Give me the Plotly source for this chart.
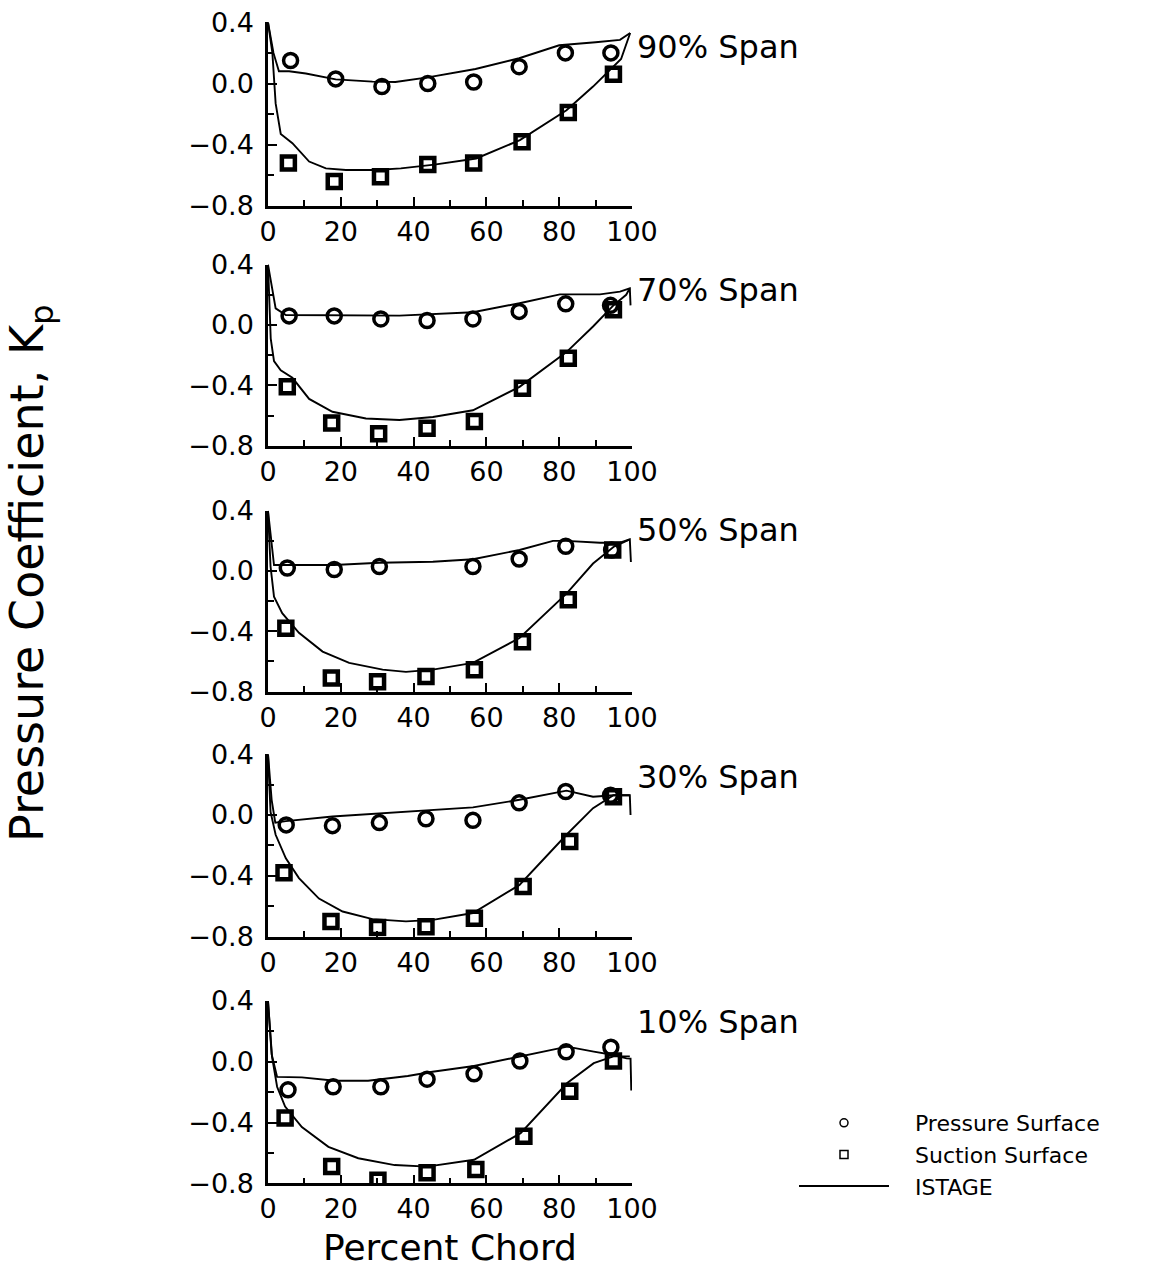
import plotly.graph_objects as go
from plotly.subplots import make_subplots

W, H = 1172, 1277

# ---------------- data ----------------
span_labels = ["90% Span", "70% Span", "50% Span", "30% Span", "10% Span"]

# 90% span
p90_x = [6.2, 18.6, 31.3, 43.9, 56.5, 69.0, 81.7, 94.2]
p90_y = [0.15, 0.03, -0.02, 0.00, 0.01, 0.11, 0.20, 0.20]
s90_x = [5.6, 18.2, 30.9, 43.9, 56.5, 69.8, 82.5, 94.9]
s90_y = [-0.52, -0.64, -0.61, -0.53, -0.52, -0.38, -0.19, 0.06]
ip90_x = [0, 1.5, 3, 5.8, 10.4, 18.6, 28.7, 35, 43.9, 57, 69, 80, 90, 96.7, 99.5]
ip90_y = [0.40, 0.20, 0.08, 0.08, 0.065, 0.027, 0.012, 0.01, 0.04, 0.095, 0.165, 0.25, 0.27, 0.285, 0.33]
is90_x = [0, 1.2, 2.1, 3.5, 6.7, 11.3, 15.9, 21.4, 29.6, 36.5, 45.7, 57.2, 69.2, 82, 89.3, 94.8, 97, 99.5]
is90_y = [0.40, 0.20, -0.13, -0.33, -0.39, -0.51, -0.555, -0.565, -0.565, -0.555, -0.53, -0.49, -0.37, -0.175, -0.02, 0.11, 0.16, 0.33]

# 70% span
p70_x = [5.8, 18.2, 31.0, 43.7, 56.3, 69.0, 81.8, 94.1]
p70_y = [0.06, 0.06, 0.04, 0.03, 0.04, 0.09, 0.14, 0.13]
s70_x = [5.3, 17.5, 30.4, 43.7, 56.7, 69.9, 82.5, 94.9]
s70_y = [-0.41, -0.65, -0.72, -0.685, -0.64, -0.42, -0.22, 0.10]
ip70_x = [0, 2.1, 4.9, 18, 36.1, 56.3, 69.1, 80.2, 91.2, 96.7, 99.4, 99.6]
ip70_y = [0.40, 0.11, 0.066, 0.066, 0.062, 0.084, 0.144, 0.203, 0.203, 0.221, 0.243, 0.13]
is70_x = [0, 0.75, 1.65, 3.5, 6.7, 11.3, 17.7, 26.9, 36.1, 45.3, 56.3, 69.1, 82, 89.3, 94.9, 98.4, 99.4]
is70_y = [0.40, -0.09, -0.24, -0.30, -0.35, -0.49, -0.575, -0.62, -0.63, -0.61, -0.565, -0.41, -0.18, -0.01, 0.13, 0.20, 0.243]

# 50% span
p50_x = [5.3, 18.2, 30.6, 56.3, 69.0, 81.8, 94.4]
p50_y = [0.02, 0.01, 0.03, 0.03, 0.08, 0.165, 0.14]
s50_x = [4.9, 17.4, 30.1, 43.4, 56.7, 69.9, 82.5, 94.7]
s50_y = [-0.38, -0.71, -0.735, -0.70, -0.655, -0.47, -0.19, 0.14]
ip50_x = [0, 1.65, 4.9, 18.2, 30.6, 45.3, 56.3, 69.1, 78.3, 82, 91.2, 96.7, 99.4, 99.7]
ip50_y = [0.40, 0.04, 0.04, 0.04, 0.055, 0.062, 0.078, 0.14, 0.20, 0.20, 0.188, 0.188, 0.21, 0.06]
is50_x = [0, 0.7, 1.65, 3.9, 8.5, 15, 22.3, 31.5, 37.9, 45.3, 56.3, 69.1, 82, 89.3, 94.9, 98.4, 99.4]
is50_y = [0.40, 0.03, -0.17, -0.28, -0.41, -0.535, -0.61, -0.655, -0.67, -0.655, -0.61, -0.445, -0.15, 0.05, 0.16, 0.195, 0.21]

# 30% span
p30_x = [5.0, 17.7, 30.6, 43.4, 56.3, 69.0, 81.8, 94.1]
p30_y = [-0.065, -0.07, -0.05, -0.025, -0.035, 0.08, 0.155, 0.13]
s30_x = [4.4, 17.3, 30.1, 43.4, 56.7, 70.1, 82.9, 94.9]
s30_y = [-0.38, -0.70, -0.74, -0.735, -0.68, -0.47, -0.175, 0.12]
ip30_x = [0, 1.0, 2.0, 4.9, 17.7, 30.6, 45.3, 56.3, 69.1, 82, 89.3, 94.9, 99.4, 99.6]
ip30_y = [0.40, 0.10, -0.05, -0.04, -0.01, 0.01, 0.035, 0.05, 0.10, 0.16, 0.12, 0.13, 0.13, 0.0]
is30_x = [0, 0.7, 2.1, 4.9, 8.5, 14, 20.5, 28.7, 37.9, 45.3, 56.3, 69.1, 82, 89.3, 94.9, 99.4]
is30_y = [0.40, 0.02, -0.13, -0.285, -0.415, -0.55, -0.635, -0.685, -0.70, -0.69, -0.645, -0.46, -0.13, 0.045, 0.13, 0.13]

# 10% span
p10_x = [5.5, 17.9, 31.0, 43.7, 56.6, 69.2, 81.9, 94.2]
p10_y = [-0.185, -0.165, -0.165, -0.115, -0.08, 0.005, 0.065, 0.095]
s10_x = [4.7, 17.5, 30.2, 43.7, 57.1, 70.3, 82.9, 94.9]
s10_y = [-0.37, -0.69, -0.78, -0.73, -0.71, -0.49, -0.195, 0.005]
ip10_x = [0, 1.0, 2.5, 5.5, 9.3, 18.4, 27.5, 38.4, 45.2, 56.6, 69.4, 82.2, 89.5, 94.9, 98.5, 99.6, 99.8]
ip10_y = [0.40, 0.05, -0.10, -0.10, -0.103, -0.125, -0.125, -0.094, -0.066, -0.028, 0.033, 0.099, 0.066, 0.044, 0.022, 0.02, -0.19]
is10_x = [0, 1.1, 2.5, 4.7, 9.3, 16.6, 24.8, 34.8, 43.7, 56.6, 69.4, 82.2, 89.5, 94.9, 99.4]
is10_y = [0.40, 0.033, -0.165, -0.295, -0.43, -0.56, -0.635, -0.68, -0.69, -0.645, -0.47, -0.14, -0.01, 0.035, 0.035]

x_ticks = [0, 20, 40, 60, 80, 100]
y_ticks = [0.4, 0.0, -0.4, -0.8]
y_tick_text = ["0.4", "0.0", "\u22120.4", "\u22120.8"]

panels = [
    (p90_x, p90_y, s90_x, s90_y, ip90_x, ip90_y, is90_x, is90_y),
    (p70_x, p70_y, s70_x, s70_y, ip70_x, ip70_y, is70_x, is70_y),
    (p50_x, p50_y, s50_x, s50_y, ip50_x, ip50_y, is50_x, is50_y),
    (p30_x, p30_y, s30_x, s30_y, ip30_x, ip30_y, is30_x, is30_y),
    (p10_x, p10_y, s10_x, s10_y, ip10_x, ip10_y, is10_x, is10_y),
]

# ---------------- layout geometry (pixels) ----------------
x_px = (268, 632)
y_px = [(22.3, 205.9), (264.6, 445.7), (510.8, 691.5), (754.2, 936.6), (1000.9, 1183.3)]
label_y = [0.24, 0.235, 0.27, 0.25, 0.26]

FONT = "DejaVu Sans"
fig = make_subplots(rows=5, cols=1)

for i, (px_, py_, sx_, sy_, ipx, ipy, isx, isy) in enumerate(panels):
    r = i + 1
    fig.add_trace(go.Scatter(x=ipx, y=ipy, mode="lines", line=dict(color="black", width=1.9),
                             showlegend=False), row=r, col=1)
    fig.add_trace(go.Scatter(x=isx, y=isy, mode="lines", line=dict(color="black", width=1.9),
                             showlegend=False), row=r, col=1)
    fig.add_trace(go.Scatter(x=px_, y=py_, mode="markers",
                             marker=dict(symbol="circle-open", size=14, color="black",
                                         line=dict(width=3.5, color="black")),
                             showlegend=False), row=r, col=1)
    fig.add_trace(go.Scatter(x=sx_, y=sy_, mode="markers",
                             marker=dict(symbol="square-open", size=13, color="black",
                                         line=dict(width=4.5, color="black")),
                             showlegend=False), row=r, col=1)
    sfx = "" if r == 1 else str(r)
    top, bot = y_px[i]
    fig.layout["xaxis" + sfx].update(
        domain=[x_px[0] / W, x_px[1] / W], range=[0, 100],
        showline=True, linecolor="black", linewidth=2.5, mirror=False,
        showgrid=False, zeroline=False, automargin=False,
        ticks="inside", ticklen=9, tickwidth=2, tickcolor="black",
        tickvals=x_ticks, ticktext=[str(v) for v in x_ticks],
        minor=dict(ticks="inside", ticklen=6, tickwidth=1.5, tickcolor="black", dtick=10, tick0=0),
        tickfont=dict(family=FONT, size=27, color="black"),
    )
    fig.layout["yaxis" + sfx].update(
        domain=[1 - bot / H, 1 - top / H], range=[-0.8, 0.4],
        showline=True, linecolor="black", linewidth=2.5,
        showgrid=False, zeroline=False, automargin=False,
        ticks="inside", ticklen=9, tickwidth=2, tickcolor="black",
        tickvals=y_ticks, ticktext=y_tick_text,
        minor=dict(ticks="inside", ticklen=6, tickwidth=1.5, tickcolor="black", dtick=0.2, tick0=0),
        tickfont=dict(family=FONT, size=27, color="black"),
        ticklabelstandoff=6,
    )
    fig.add_annotation(x=100, y=label_y[i], xref="x" + sfx, yref="y" + sfx, text=span_labels[i],
                       showarrow=False, xanchor="left", yanchor="middle", xshift=3,
                       font=dict(family=FONT, size=32, color="black"))

# legend-only traces
fig.add_trace(go.Scatter(x=[None], y=[None], mode="markers", name="&nbsp;&nbsp;&nbsp;Pressure Surface",
                         marker=dict(symbol="circle-open", size=8, color="black", line=dict(width=1.5))),
              row=5, col=1)
fig.add_trace(go.Scatter(x=[None], y=[None], mode="markers", name="&nbsp;&nbsp;&nbsp;Suction Surface",
                         marker=dict(symbol="square-open", size=8, color="black", line=dict(width=1.5))),
              row=5, col=1)
fig.add_trace(go.Scatter(x=[None], y=[None], mode="lines", name="&nbsp;&nbsp;&nbsp;ISTAGE",
                         line=dict(color="black", width=1.8)), row=5, col=1)

fig.add_annotation(x=30 / W, y=1 - 573 / H, xref="paper", yref="paper",
                   text="Pressure Coefficient, K<sub>p</sub>", textangle=-90, showarrow=False,
                   xanchor="center", yanchor="middle", font=dict(family=FONT, size=46, color="black"))
fig.add_annotation(x=450 / W, y=1 - 1247 / H, xref="paper", yref="paper",
                   text="Percent Chord", showarrow=False, xanchor="center", yanchor="middle",
                   font=dict(family=FONT, size=36, color="black"))

fig.update_layout(
    width=W, height=H,
    margin=dict(l=0, r=0, t=0, b=0, pad=0, autoexpand=False),
    paper_bgcolor="white", plot_bgcolor="white",
    font=dict(family=FONT, color="black"),
    legend=dict(x=794 / W, y=1 - 1102 / H, xanchor="left", yanchor="top",
                font=dict(family=FONT, size=22, color="black"),
                itemwidth=90, bgcolor="rgba(0,0,0,0)", tracegroupgap=0),
)

fig.write_html("out.html")
